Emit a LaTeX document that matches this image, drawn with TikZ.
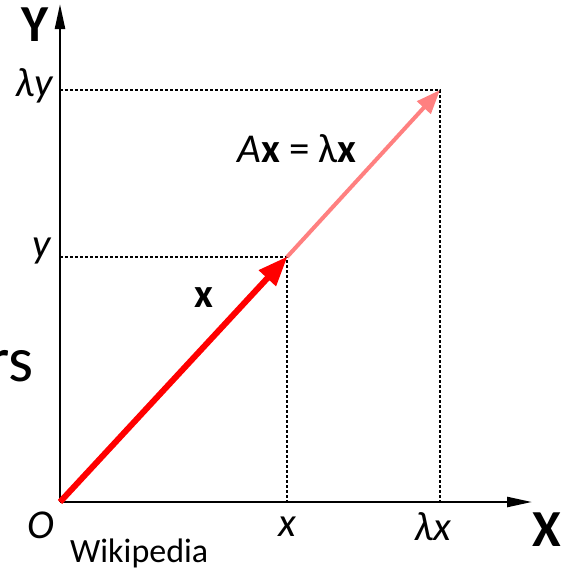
\documentclass[tikz,border=0pt]{standalone}
\usepackage{fontspec}
\setmainfont{Carlito}
\usetikzlibrary{arrows.meta}
\tikzset{
  axis/.style={line width=2.4pt,-{Triangle[length=25pt,width=10pt]}},
  guide/.style={line width=1.3pt,dash pattern=on 3pt off 2pt},
  vecA/.style={line width=6pt,red,-{Triangle[length=30pt,width=22pt]},shorten >=-1pt},
  vecB/.style={line width=4pt,color={rgb,255:red,255;green,128;blue,128},-{Triangle[length=24pt,width=18pt]}},
  lbl/.style={inner sep=0pt,font=\fontsize{41}{45}\selectfont},
  big/.style={inner sep=0pt,font=\fontsize{52}{56}\selectfont\bfseries},
}
\begin{document}
\begin{tikzpicture}[x=1pt,y=-1pt]
\useasboundingbox (0,0) rectangle (562,571);
\coordinate (O) at (60,502);
\coordinate (P1) at (287,257);
\coordinate (P2) at (440,90);
\coordinate (Yt) at (60,4);
\coordinate (Xt) at (532,502);
\coordinate (Ly) at (60,90);
\coordinate (Y1) at (60,257);
\coordinate (X1) at (287,502);
\coordinate (LX) at (440,502);
% guides
\draw[guide] (Ly) -- (P2) -- (LX);
\draw[guide] (Y1) -- (P1) -- (X1);
% axes
\draw[axis] (O) -- (Yt);
\draw[axis] (O) -- (Xt);
% vectors
\draw[vecB] (P1) -- (P2);
\draw[vecA] (O) -- (P1);
% labels
\node[big] (Ylab) at (35,25) {Y};
\node[big] (Xlab) at (547,530) {X};
\node[lbl,anchor=east] (lylab) at (53,86) {\itshape λy};
\node[lbl,anchor=east] (ylab) at (51,251) {\itshape y};
\node[lbl] (Olab) at (41,525) {\itshape O};
\node[lbl] (xlab) at (287,527) {\itshape x};
\node[lbl] (lxlab) at (433,527) {\itshape λx};
\node[lbl] (vx) at (203.5,298) {\bfseries x};
\node[lbl] (eq) at (297,149) {\itshape A\upshape\bfseries x\mdseries\ = λ\bfseries x};
\node[inner sep=0pt,font=\fontsize{34}{38}\selectfont,anchor=west] (wiki) at (70,553) {Wikipedia};
\node[inner sep=0pt,font=\fontsize{64}{68}\selectfont,anchor=base east] (rs) at (34,381) {rs};
\end{tikzpicture}
\end{document}
